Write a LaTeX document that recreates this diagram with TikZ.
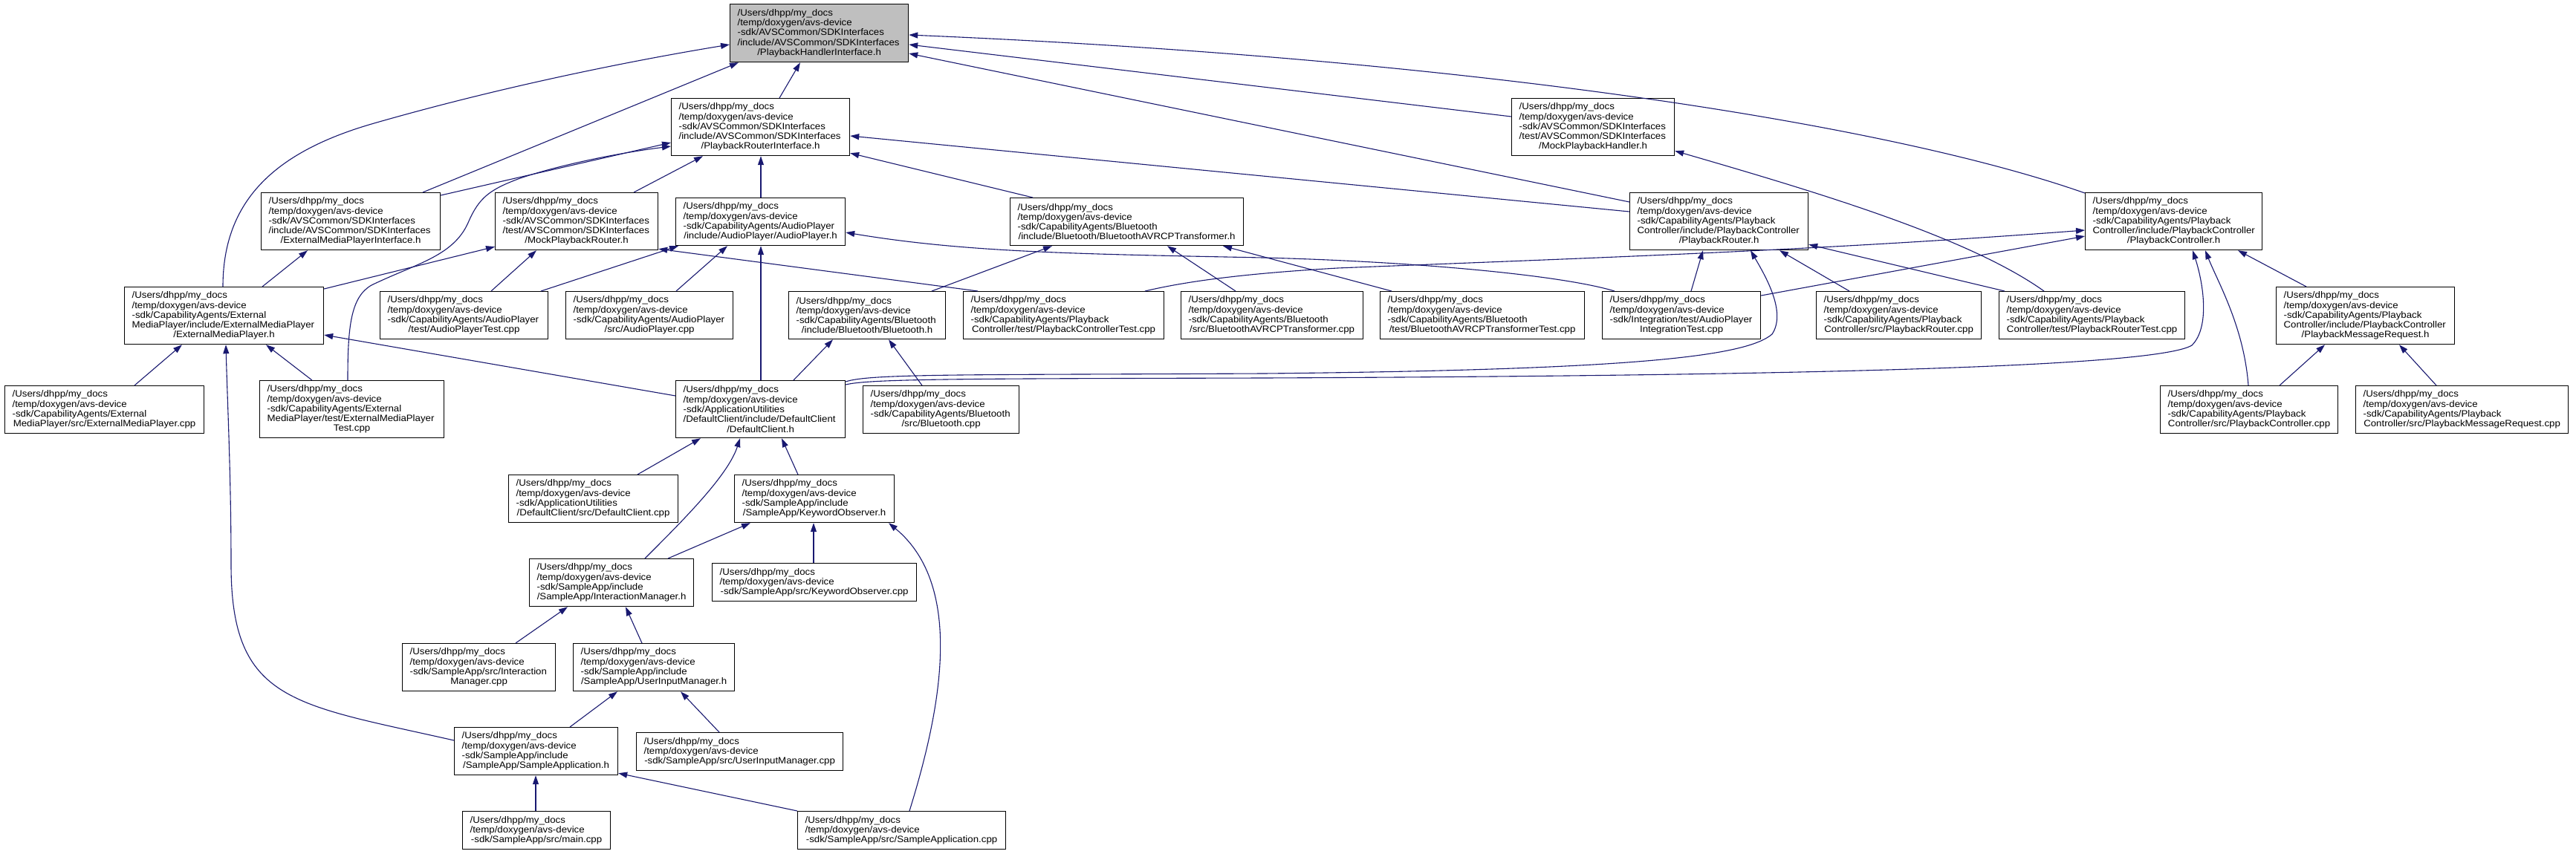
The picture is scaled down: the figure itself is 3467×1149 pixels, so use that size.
\documentclass[tikz,border=0pt]{standalone}
\usepackage{fontspec}
\newfontfamily\dxf{Liberation Sans}[FakeStretch=1.07]
\usetikzlibrary{arrows.meta}
\definecolor{mb}{HTML}{191970}
\definecolor{rootgray}{HTML}{BFBFBF}
\newcommand\hd{/Users/dhpp/my\_docs\\/temp/doxygen/avs-device}
\newcommand\lst[1]{\makebox[\hsize][c]{#1}}
\tikzset{
  fnode/.style={draw=black, line width=1.2pt, fill=white, anchor=north west,
    inner xsep=0pt, inner ysep=0pt, align=left,
    font=\dxf\fontsize{12.4}{13.3}\selectfont},
  bx/.code 2 args={\pgfmathsetmacro\dxtw{#1-20}%
    \edef\dxtmp{\noexpand\pgfkeysalso{minimum width=#1pt,minimum height=#2pt,text width=\dxtw pt}}\dxtmp},
  dep/.style={draw=mb, line width=1.1pt, -{Triangle[length=12pt,width=8pt]}},
}
\begin{document}
\begin{tikzpicture}[x=1pt,y=-1pt]
\fill[white] (0,0) rectangle (3467,1149);
\useasboundingbox (0,0) rectangle (3467,1149);
% row 0-2
\node[fnode, bx={240}{78}, fill=rootgray] (PHI) at (982,5) {\hd\\-sdk/AVSCommon/SDKInterfaces\\/include/AVSCommon/SDKInterfaces\\\lst{/PlaybackHandlerInterface.h}};
\node[fnode, bx={240}{77}] (PRI) at (903,132) {\hd\\-sdk/AVSCommon/SDKInterfaces\\/include/AVSCommon/SDKInterfaces\\\lst{/PlaybackRouterInterface.h}};
\node[fnode, bx={219}{77}] (MPH) at (2034,132) {\hd\\-sdk/AVSCommon/SDKInterfaces\\/test/AVSCommon/SDKInterfaces\\\lst{/MockPlaybackHandler.h}};
\node[fnode, bx={241}{77}] (EMPI) at (351,259) {\hd\\-sdk/AVSCommon/SDKInterfaces\\/include/AVSCommon/SDKInterfaces\\\lst{/ExternalMediaPlayerInterface.h}};
\node[fnode, bx={219}{77}] (MPR) at (666,259) {\hd\\-sdk/AVSCommon/SDKInterfaces\\/test/AVSCommon/SDKInterfaces\\\lst{/MockPlaybackRouter.h}};
\node[fnode, bx={228}{64}] (APh) at (909,266) {\hd\\-sdk/CapabilityAgents/AudioPlayer\\\lst{/include/AudioPlayer/AudioPlayer.h}};
\node[fnode, bx={314}{64}] (BTAh) at (1359,266) {\hd\\-sdk/CapabilityAgents/Bluetooth\\\lst{/include/Bluetooth/BluetoothAVRCPTransformer.h}};
\node[fnode, bx={240}{77}] (PRh) at (2193,259) {\hd\\-sdk/CapabilityAgents/Playback\\Controller/include/PlaybackController\\\lst{/PlaybackRouter.h}};
\node[fnode, bx={238}{77}] (PCh) at (2806,259) {\hd\\-sdk/CapabilityAgents/Playback\\Controller/include/PlaybackController\\\lst{/PlaybackController.h}};
% row 3
\node[fnode, bx={268}{77}] (EMPh) at (167,386) {\hd\\-sdk/CapabilityAgents/External\\MediaPlayer/include/ExternalMediaPlayer\\\lst{/ExternalMediaPlayer.h}};
\node[fnode, bx={226}{64}] (APTest) at (511,392) {\hd\\-sdk/CapabilityAgents/AudioPlayer\\\lst{/test/AudioPlayerTest.cpp}};
\node[fnode, bx={225}{64}] (APcpp) at (761,392) {\hd\\-sdk/CapabilityAgents/AudioPlayer\\\lst{/src/AudioPlayer.cpp}};
\node[fnode, bx={211}{64}] (BTh) at (1061,392) {\hd\\-sdk/CapabilityAgents/Bluetooth\\\lst{/include/Bluetooth/Bluetooth.h}};
\node[fnode, bx={270}{64}] (PCTest) at (1296,392) {\hd\\-sdk/CapabilityAgents/Playback\\\lst{Controller/test/PlaybackControllerTest.cpp}};
\node[fnode, bx={245}{64}] (BTAcpp) at (1589,392) {\hd\\-sdk/CapabilityAgents/Bluetooth\\\lst{/src/BluetoothAVRCPTransformer.cpp}};
\node[fnode, bx={275}{64}] (BTATest) at (1857,392) {\hd\\-sdk/CapabilityAgents/Bluetooth\\\lst{/test/BluetoothAVRCPTransformerTest.cpp}};
\node[fnode, bx={213}{64}] (IntTest) at (2156,392) {\hd\\-sdk/Integration/test/AudioPlayer\\\lst{IntegrationTest.cpp}};
\node[fnode, bx={222}{64}] (PRcpp) at (2444,392) {\hd\\-sdk/CapabilityAgents/Playback\\\lst{Controller/src/PlaybackRouter.cpp}};
\node[fnode, bx={250}{64}] (PRTest) at (2690,392) {\hd\\-sdk/CapabilityAgents/Playback\\\lst{Controller/test/PlaybackRouterTest.cpp}};
\node[fnode, bx={240}{77}] (PMRh) at (3063,386) {\hd\\-sdk/CapabilityAgents/Playback\\Controller/include/PlaybackController\\\lst{/PlaybackMessageRequest.h}};
% row 4
\node[fnode, bx={268}{64}] (EMPcpp) at (6,519) {\hd\\-sdk/CapabilityAgents/External\\\lst{MediaPlayer/src/ExternalMediaPlayer.cpp}};
\node[fnode, bx={248}{77}] (EMPTest) at (349,512) {\hd\\-sdk/CapabilityAgents/External\\MediaPlayer/test/ExternalMediaPlayer\\\lst{Test.cpp}};
\node[fnode, bx={228}{77}] (DCh) at (909,512) {\hd\\-sdk/ApplicationUtilities\\/DefaultClient/include/DefaultClient\\\lst{/DefaultClient.h}};
\node[fnode, bx={210}{64}] (BTcpp) at (1161,519) {\hd\\-sdk/CapabilityAgents/Bluetooth\\\lst{/src/Bluetooth.cpp}};
\node[fnode, bx={239}{64}] (PCcpp) at (2907,519) {\hd\\-sdk/CapabilityAgents/Playback\\\lst{Controller/src/PlaybackController.cpp}};
\node[fnode, bx={286}{64}] (PMRcpp) at (3170,519) {\hd\\-sdk/CapabilityAgents/Playback\\\lst{Controller/src/PlaybackMessageRequest.cpp}};
% lower part
\node[fnode, bx={228}{64}] (DCcpp) at (684,639) {\hd\\-sdk/ApplicationUtilities\\\lst{/DefaultClient/src/DefaultClient.cpp}};
\node[fnode, bx={215}{64}] (KOh) at (988,639) {\hd\\-sdk/SampleApp/include\\\lst{/SampleApp/KeywordObserver.h}};
\node[fnode, bx={221}{64}] (IMh) at (712,752) {\hd\\-sdk/SampleApp/include\\\lst{/SampleApp/InteractionManager.h}};
\node[fnode, bx={275}{51}] (KOcpp) at (958,758) {\hd\\\lst{-sdk/SampleApp/src/KeywordObserver.cpp}};
\node[fnode, bx={206}{64}] (IMcpp) at (541,866) {\hd\\-sdk/SampleApp/src/Interaction\\\lst{Manager.cpp}};
\node[fnode, bx={217}{64}] (UIMh) at (771,866) {\hd\\-sdk/SampleApp/include\\\lst{/SampleApp/UserInputManager.h}};
\node[fnode, bx={220}{64}] (SAh) at (611,979) {\hd\\-sdk/SampleApp/include\\\lst{/SampleApp/SampleApplication.h}};
\node[fnode, bx={278}{51}] (UIMcpp) at (856,986) {\hd\\\lst{-sdk/SampleApp/src/UserInputManager.cpp}};
\node[fnode, bx={199}{51}] (maincpp) at (622,1092) {\hd\\\lst{-sdk/SampleApp/src/main.cpp}};
\node[fnode, bx={280}{51}] (SAcpp) at (1073,1092) {\hd\\\lst{-sdk/SampleApp/src/SampleApplication.cpp}};

% edges into PlaybackHandlerInterface.h
\draw[dep] ([xshift=133pt]EMPh.north west) .. controls (300,270) and (370,205) .. (500,167) .. controls (680,115) and (860,80) .. ([yshift=-55pt]PHI.north west);
\draw[dep] ([xshift=218pt]EMPI.north west) -- ([xshift=12pt]PHI.south west);
\draw[dep] ([xshift=146pt]PRI.north west) -- ([xshift=95pt]PHI.south west);
\draw[dep] ([yshift=-25pt]MPH.north west) -- ([yshift=-55pt]PHI.north east);
\draw[dep] ([yshift=-13pt]PRh.north west) -- ([yshift=-67pt]PHI.north east);
\draw[dep] ([yshift=-1pt]PCh.north west) .. controls (2550,170) and (2000,80) .. ([yshift=-42pt]PHI.north east);
% edges into PlaybackRouterInterface.h
\draw[dep] ([yshift=-4pt]EMPI.north east) -- ([yshift=-60pt]PRI.north west);
\draw[dep] ([xshift=119pt]EMPTest.north west) .. controls (468,440) and (472,400) .. (500,384) .. controls (560,355) and (610,345) .. (630,300) .. controls (645,265) and (660,255) .. (700,240) .. controls (760,220) and (840,205) .. ([yshift=-65pt]PRI.north west);
\draw[dep] ([xshift=187pt]MPR.north west) -- ([xshift=43pt]PRI.south west);
\draw[dep] ([xshift=115pt]APh.north west) -- ([xshift=121pt]PRI.south west);
\draw[dep] ([xshift=31pt]BTAh.north west) -- ([yshift=4pt]PRI.south east);
\draw[dep] ([yshift=-26pt]PRh.north west) -- ([yshift=-51pt]PRI.north east);
% ExternalMediaPlayerInterface.h, MockPlaybackRouter.h
\draw[dep] ([xshift=186pt]EMPh.north west) -- ([xshift=63pt]EMPI.south west);
\draw[dep] ([yshift=-3pt]EMPh.north east) -- ([yshift=5pt]MPR.south west);
\draw[dep] ([xshift=150pt]APTest.north west) -- ([xshift=56pt]MPR.south west);
\draw[dep] ([xshift=20pt]PCTest.north west) -- ([yshift=2pt]MPR.south east);
% AudioPlayer.h
\draw[dep] ([xshift=217pt]APTest.north west) -- ([xshift=4pt]APh.south west);
\draw[dep] ([xshift=149pt]APcpp.north west) -- ([xshift=70pt]APh.south west);
\draw[dep] ([xshift=115pt]DCh.north west) -- ([xshift=115pt]APh.south west);
\draw[dep] ([xshift=17pt]IntTest.north west) .. controls (2100,370) and (1900,352) .. (1700,347) .. controls (1450,342) and (1300,340) .. ([yshift=-47pt]APh.north east);
% BluetoothAVRCPTransformer.h
\draw[dep] ([xshift=193pt]BTh.north west) -- ([xshift=57pt]BTAh.south west);
\draw[dep] ([xshift=74pt]BTAcpp.north west) -- ([xshift=212pt]BTAh.south west);
\draw[dep] ([xshift=16pt]BTATest.north west) -- ([xshift=287pt]BTAh.south west);
% PlaybackRouter.h
\draw[dep] ([xshift=120pt]IntTest.north west) -- ([xshift=99pt]PRh.south west);
\draw[dep] ([yshift=-2pt]DCh.north east) .. controls (1170,503) and (1300,505) .. (1700,503) .. controls (2200,498) and (2350,480) .. (2385,450) .. controls (2405,420) and (2375,370) .. ([xshift=163pt]PRh.south west);
\draw[dep] ([xshift=45pt]PRcpp.north west) -- ([xshift=202pt]PRh.south west);
\draw[dep] ([xshift=8pt]PRTest.north west) -- ([yshift=8pt]PRh.south east);
% PlaybackController.h
\draw[dep] ([xshift=245pt]PCTest.north west) .. controls (1600,378) and (1680,368) .. (1800,361) .. controls (2150,347) and (2450,337) .. ([yshift=-51pt]PCh.north west);
\draw[dep] ([yshift=-6pt]IntTest.north east) -- ([yshift=-59pt]PCh.north west);
\draw[dep] ([yshift=-6pt]DCh.north east) .. controls (1170,510) and (1300,510) .. (1700,509) .. controls (2400,506) and (2900,495) .. (2950,465) .. controls (2975,440) and (2965,380) .. ([xshift=145pt]PCh.south west);
\draw[dep] ([xshift=119pt]PCcpp.north west) .. controls (3020,440) and (2985,380) .. ([xshift=162pt]PCh.south west);
\draw[dep] ([xshift=41pt]PMRh.north west) -- ([xshift=206pt]PCh.south west);
% MockPlaybackHandler.h
\draw[dep] ([xshift=61pt]PRTest.north west) .. controls (2650,320) and (2450,260) .. ([yshift=7pt]MPH.south east);
% PlaybackMessageRequest.h
\draw[dep] ([xshift=161pt]PCcpp.north west) -- ([xshift=66pt]PMRh.south west);
\draw[dep] ([xshift=109pt]PMRcpp.north west) -- ([xshift=166pt]PMRh.south west);
% ExternalMediaPlayer.h
\draw[dep] ([xshift=175pt]EMPcpp.north west) -- ([xshift=78pt]EMPh.south west);
\draw[dep] ([xshift=71pt]EMPTest.north west) -- ([xshift=191pt]EMPh.south west);
\draw[dep] ([yshift=-18pt]SAh.north west) .. controls (395,948) and (311,946) .. (311,760) .. controls (311,640) and (306,540) .. ([xshift=137pt]EMPh.south west);
\draw[dep] ([yshift=-21pt]DCh.north west) -- ([yshift=-65pt]EMPh.north east);
% Bluetooth.h
\draw[dep] ([xshift=159pt]DCh.north west) -- ([xshift=60pt]BTh.south west);
\draw[dep] ([xshift=80pt]BTcpp.north west) -- ([xshift=135pt]BTh.south west);
% DefaultClient.h
\draw[dep] ([xshift=174pt]DCcpp.north west) -- ([xshift=34pt]DCh.south west);
\draw[dep] ([xshift=156pt]IMh.north west) .. controls (920,700) and (980,640) .. ([xshift=87pt]DCh.south west);
\draw[dep] ([xshift=86pt]KOh.north west) -- ([xshift=143pt]DCh.south west);
% KeywordObserver.h
\draw[dep] ([xshift=187pt]IMh.north west) -- ([xshift=22pt]KOh.south west);
\draw[dep] ([xshift=137pt]KOcpp.north west) -- ([xshift=107pt]KOh.south west);
\draw[dep] ([xshift=151pt]SAcpp.north west) .. controls (1265,960) and (1300,790) .. ([xshift=208pt]KOh.south west);
% InteractionManager.h, UserInputManager.h, SampleApplication.h
\draw[dep] ([xshift=153pt]IMcpp.north west) -- ([xshift=52pt]IMh.south west);
\draw[dep] ([xshift=93pt]UIMh.north west) -- ([xshift=130pt]IMh.south west);
\draw[dep] ([xshift=156pt]SAh.north west) -- ([xshift=60pt]UIMh.south west);
\draw[dep] ([xshift=112pt]UIMcpp.north west) -- ([xshift=145pt]UIMh.south west);
\draw[dep] ([xshift=99pt]maincpp.north west) -- ([xshift=110pt]SAh.south west);
\draw[dep] (SAcpp.north west) -- ([yshift=3pt]SAh.south east);
\end{tikzpicture}
\end{document}
